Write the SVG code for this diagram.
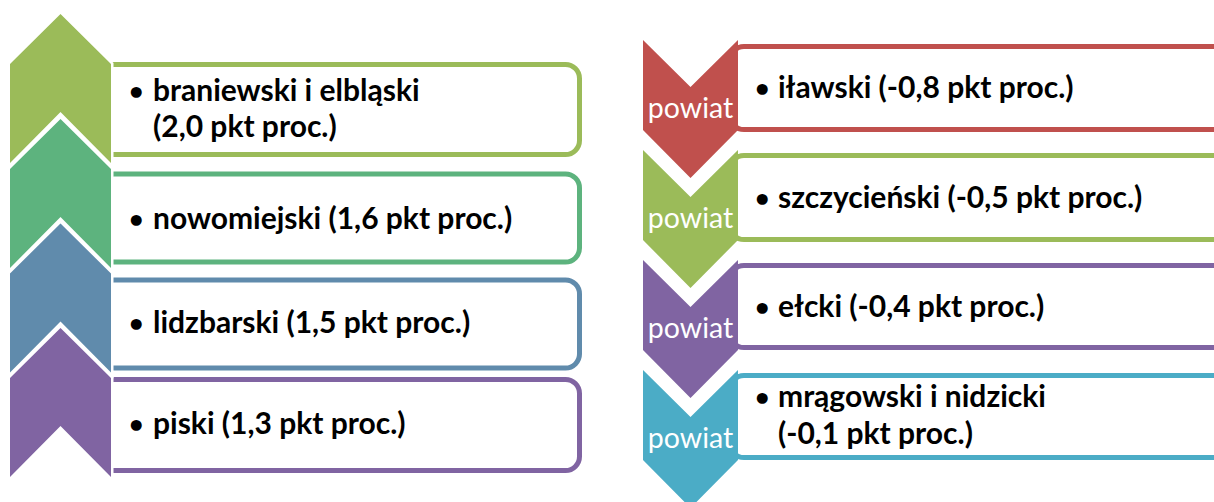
<svg xmlns="http://www.w3.org/2000/svg" width="1214" height="502" viewBox="0 0 1214 502">
<style>
.box{fill:#fff;stroke-width:5}
.chev{stroke:#fff;stroke-width:5;paint-order:stroke;stroke-linejoin:miter}
.t{font-family:Lato,"Liberation Sans",sans-serif;font-weight:bold;font-size:30px;fill:#000}
.b{font-size:25px}
.p{font-family:Lato,"Liberation Sans",sans-serif;font-size:28.5px;fill:#fff;text-anchor:middle}
</style>
<rect width="1214" height="502" fill="#fff"/>
<g id="connectors"></g>
<g id="box-l1"><rect class="box" x="100" y="64.5" width="479.5" height="90" rx="14" stroke="#9BBB59"/>
<text class="t" y="101"><tspan class="b" x="129" dy="-1">•</tspan><tspan x="153" dy="1">braniewski i elbląski</tspan></text>
<text class="t" x="153" y="137">(2,0 pkt proc.)</text></g>
<g id="box-l2"><rect class="box" x="100" y="174" width="479.5" height="88" rx="14" stroke="#5DB37E"/>
<text class="t" y="229"><tspan class="b" x="129" dy="-1">•</tspan><tspan x="153" dy="1">nowomiejski (1,6 pkt proc.)</tspan></text></g>
<g id="box-l3"><rect class="box" x="100" y="280" width="479.5" height="88" rx="14" stroke="#608BAC"/>
<text class="t" y="333"><tspan class="b" x="129" dy="-1">•</tspan><tspan x="153" dy="1">lidzbarski (1,5 pkt proc.)</tspan></text></g>
<g id="box-l4"><rect class="box" x="100" y="379.5" width="479.5" height="91" rx="14" stroke="#8064A2"/>
<text class="t" y="434"><tspan class="b" x="129" dy="-1">•</tspan><tspan x="153" dy="1">piski (1,3 pkt proc.)</tspan></text></g>
<g id="chev-l1"><polygon class="chev" fill="#9BBB59" points="10,64 60.5,14 111,64 111,163 60.5,112 10,163"/></g>
<g id="chev-l2"><polygon class="chev" fill="#5DB37E" points="10,169 60.5,119 111,169 111,268 60.5,217 10,268"/></g>
<g id="chev-l3"><polygon class="chev" fill="#608BAC" points="10,273.5 60.5,223.5 111,273.5 111,372.5 60.5,321.5 10,372.5"/></g>
<g id="chev-l4"><polygon class="chev" fill="#8064A2" points="10,378 60.5,328 111,378 111,477 60.5,426 10,477"/></g>
<g id="box-r1"><rect class="box" x="730" y="46.5" width="1481" height="83" rx="14" stroke="#C0504D"/>
<text class="t" y="98"><tspan class="b" x="755" dy="-1">•</tspan><tspan x="778" dy="1">iławski (-0,8 pkt proc.)</tspan></text></g>
<g id="box-r2"><rect class="box" x="730" y="155.5" width="1481" height="84" rx="14" stroke="#9BBB59"/>
<text class="t" y="208"><tspan class="b" x="755" dy="-1">•</tspan><tspan x="778" dy="1">szczycieński (-0,5 pkt proc.)</tspan></text></g>
<g id="box-r3"><rect class="box" x="730" y="265.5" width="1481" height="82" rx="14" stroke="#8064A2"/>
<text class="t" y="317"><tspan class="b" x="755" dy="-1">•</tspan><tspan x="778" dy="1">ełcki (-0,4 pkt proc.)</tspan></text></g>
<g id="box-r4"><rect class="box" x="730" y="375.5" width="1481" height="82" rx="14" stroke="#4BACC6"/>
<text class="t" y="407"><tspan class="b" x="755" dy="-1">•</tspan><tspan x="778" dy="1">mrągowski i nidzicki</tspan></text>
<text class="t" x="778" y="444">(-0,1 pkt proc.)</text></g>
<g id="chev-r1"><polygon fill="#C0504D" points="643,40 690.5,87 738,40 738,130 690.5,178 643,130"/><text class="p" x="690.5" y="118">powiat</text></g>
<g id="chev-r2"><polygon fill="#9BBB59" points="643,150 690.5,197 738,150 738,240 690.5,288 643,240"/><text class="p" x="690.5" y="228">powiat</text></g>
<g id="chev-r3"><polygon fill="#8064A2" points="643,260 690.5,307 738,260 738,350 690.5,398 643,350"/><text class="p" x="690.5" y="338">powiat</text></g>
<g id="chev-r4"><polygon fill="#4BACC6" points="643,370 690.5,417 738,370 738,460 690.5,508 643,460"/><text class="p" x="690.5" y="448">powiat</text></g>
</svg>
